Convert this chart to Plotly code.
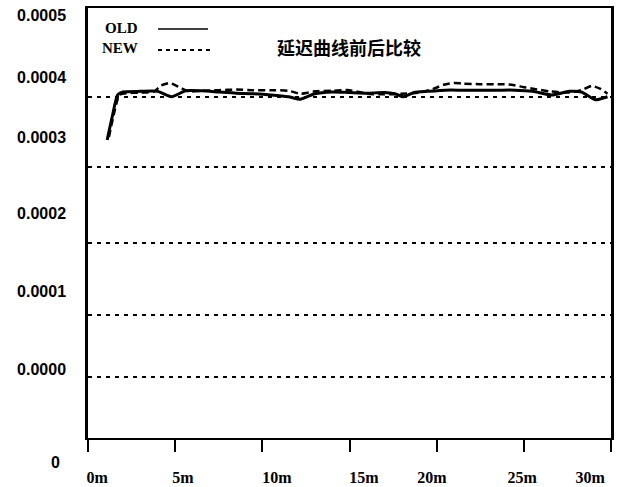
import plotly.graph_objects as go

# ---- data ----
old_x = [1.1, 1.4, 1.7, 2.0, 3.0, 4.0, 4.8, 5.6, 6.5, 7.5, 8.5, 9.5, 10.5, 11.5, 12.2,
         13.0, 14.0, 15.0, 16.0, 17.0, 17.6, 18.1, 18.7, 19.5, 20.5, 21.5, 22.5, 23.5,
         24.5, 25.5, 26.6, 27.6, 28.3, 29.1, 29.8]
old_y = [2.95, 3.35, 3.70, 3.75, 3.76, 3.76, 3.67, 3.77, 3.77, 3.75, 3.73, 3.72, 3.70,
         3.67, 3.63, 3.72, 3.75, 3.74, 3.73, 3.74, 3.72, 3.67, 3.74, 3.76, 3.78, 3.78,
         3.78, 3.78, 3.78, 3.76, 3.70, 3.76, 3.75, 3.62, 3.67]

new_x = [1.2, 1.5, 1.8, 2.2, 3.0, 3.8, 4.2, 4.7, 5.3, 5.8, 6.5, 7.5, 8.5, 9.5, 10.5,
         11.5, 12.2, 13.0, 14.0, 15.0, 16.0, 17.0, 18.0, 19.0, 19.8, 20.4, 21.0, 21.5,
         22.5, 23.5, 24.3, 25.0, 25.6, 26.5, 27.5, 28.3, 28.9, 29.4, 29.8]
new_y = [3.00, 3.40, 3.70, 3.73, 3.74, 3.76, 3.86, 3.90, 3.82, 3.76, 3.77, 3.78, 3.79,
         3.78, 3.78, 3.77, 3.72, 3.76, 3.77, 3.78, 3.72, 3.71, 3.72, 3.74, 3.80, 3.87,
         3.90, 3.89, 3.88, 3.88, 3.87, 3.83, 3.80, 3.76, 3.74, 3.78, 3.85, 3.80, 3.72]

scale = 1e-4
old_y = [v * scale for v in old_y]
new_y = [v * scale for v in new_y]

x_tick_vals = [0, 5, 10, 15, 20, 25, 30]
x_tick_text = ["0m", "5m", "10m", "15m", "20m", "25m", "30m"]
x_label_pos = [0.52, 5.45, 10.84, 15.83, 19.73, 24.9, 28.8]

y_tick_text = ["0.0005", "0.0004", "0.0003", "0.0002", "0.0001", "0.0000"]
y_tick_vals = [0.000503, 0.0004, 0.0003, 0.000172, 0.0000417, -0.0000883]
grid_vals = [0.0003667, 0.00025, 0.0001233, 0.0000033, -0.0001]

series_names = ["OLD", "NEW"]
title_text = "延迟曲线前后比较"

# ---- layout helpers ----
W, H = 621, 487
L, R, T, B = 88, 10, 8, 49
PW, PH = W - L - R, H - T - B


def px(x):
    return (x - L) / PW


def py(y):
    return (H - B - y) / PH


yrange = [-0.000202, 0.000515]
xrange_ = [0, 30]

fig = go.Figure()
fig.add_trace(go.Scatter(x=old_x, y=old_y, mode="lines", name=series_names[0],
                         line=dict(color="black", width=3, shape="spline", smoothing=0.6)))
fig.add_trace(go.Scatter(x=new_x, y=new_y, mode="lines", name=series_names[1],
                         line=dict(color="black", width=2.5, dash="7px,4px",
                                   shape="spline", smoothing=0.6)))
# invisible traces to activate the helper axes (grid lines / label positions)
fig.add_trace(go.Scatter(x=[None], y=[None], yaxis="y2", showlegend=False, hoverinfo="skip"))
fig.add_trace(go.Scatter(x=[None], y=[None], xaxis="x2", showlegend=False, hoverinfo="skip"))

serif = "Liberation Serif"
fig.update_layout(
    width=W, height=H,
    margin=dict(l=L, r=R, t=T, b=B, pad=0, autoexpand=False),
    paper_bgcolor="white", plot_bgcolor="white",
    showlegend=False,
    xaxis=dict(range=xrange_, tickmode="array", tickvals=x_tick_vals, showticklabels=False,
               showgrid=False, zeroline=False, showline=True, mirror=True, automargin=False,
               linecolor="black", linewidth=2, ticks="outside", ticklen=12, tickwidth=2,
               tickcolor="black"),
    xaxis2=dict(range=xrange_, overlaying="x", side="bottom", anchor="y", tickmode="array",
                tickvals=x_label_pos, ticktext=x_tick_text, ticks="", showline=False,
                showgrid=False, zeroline=False, automargin=False, ticklabelstandoff=28,
                tickfont=dict(family=serif, size=16, color="black", weight="bold")),
    yaxis=dict(range=yrange, tickmode="array", tickvals=y_tick_vals, ticktext=y_tick_text,
               showgrid=False, zeroline=False, showline=True, mirror=True, automargin=False,
               linecolor="black", linewidth=2.5, ticks="", ticklabelstandoff=16,
               tickfont=dict(family="Liberation Sans", size=16, color="black", weight="bold")),
    yaxis2=dict(range=yrange, overlaying="y", side="right", tickmode="array",
                tickvals=grid_vals, showticklabels=False, ticks="", showline=False,
                zeroline=False, showgrid=True, gridcolor="black", gridwidth=2,
                griddash="4px,5px", automargin=False),
)

annotations = [
    dict(text=series_names[0], x=px(103), y=py(28), xanchor="left", yanchor="middle",
         font=dict(family=serif, size=15, color="black", weight="bold")),
    dict(text=series_names[1], x=px(100), y=py(48), xanchor="left", yanchor="middle",
         font=dict(family=serif, size=15, color="black", weight="bold")),
    dict(text=title_text, x=px(349), y=py(47), xanchor="center", yanchor="middle",
         font=dict(family="Noto Sans CJK SC", size=18, color="black", weight="bold")),
    dict(text="0", x=px(55), y=py(462), xanchor="center", yanchor="middle",
         font=dict(family="Liberation Sans", size=16, color="black", weight="bold")),
]
for a in annotations:
    a.update(xref="paper", yref="paper", showarrow=False)
fig.update_layout(annotations=annotations)

fig.add_shape(type="line", xref="paper", yref="paper", x0=px(158), x1=px(208),
              y0=py(29), y1=py(29), line=dict(color="black", width=1.5))
fig.add_shape(type="line", xref="paper", yref="paper", x0=px(158), x1=px(213),
              y0=py(50), y1=py(50), line=dict(color="black", width=2, dash="4px,4px"))

fig.write_html("out.html", config={"displayModeBar": False},
               post_script="document.body.style.margin='0';document.body.style.overflow='hidden';")
